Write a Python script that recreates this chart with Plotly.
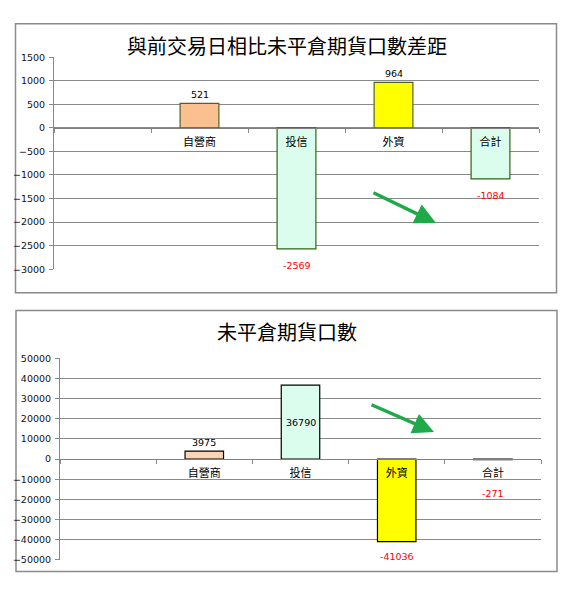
import plotly.graph_objects as go

# categories (first slot is left empty, as in the source sheet)
categories = [" ", "自營商", "投信", "外資", "合計"]
investors = ["自營商", "投信", "外資", "合計"]

# chart 1: change vs previous trading day
diff_title = "與前交易日相比未平倉期貨口數差距"
diff_values = [521, -2569, 964, -1084]
diff_range = [-3000, 1500]
diff_dtick = 500

# chart 2: open interest
oi_title = "未平倉期貨口數"
oi_values = [3975, 36790, -41036, -271]
oi_range = [-50000, 50000]
oi_dtick = 10000

# the page body keeps an 8px margin, so the figure is shrunk by that much
PAGE_PAD = 8
W, H = 577 - PAGE_PAD, 600 - PAGE_PAD


def px(x):
    return (x - PAGE_PAD) / W


def py(y):
    return 1 - (y - PAGE_PAD) / H


fig = go.Figure()

panels = [
    dict(values=diff_values, rng=diff_range, dtick=diff_dtick, title=diff_title,
         xdom=[px(54), px(539)], ydom=[py(268), py(52)],
         colors=["#FAC090", "#DAFDEE", "#FFFF00", "#DAFDEE"],
         lines=["#4F6228", "#2E6413", "#4F6228", "#2E6413"],
         box=[15.5, 18, 556.5, 292], title_y=40,
         arrow=[(372, 190), (436, 221)],
         label_pos=["out", "out", "out", "out"], neg_shift=-9, small_shift=-9),
    dict(values=oi_values, rng=oi_range, dtick=oi_dtick, title=oi_title,
         xdom=[px(60), px(541)], ydom=[py(564), py(359)],
         colors=["#FCD5B4", "#DAFDEE", "#FFFF00", "#DAFDEE"],
         lines=["#000000"] * 4,
         box=[16, 310, 557, 576], title_y=332,
         arrow=[(370, 406), (434, 434)],
         label_pos=["out", "mid", "out", "low"], neg_shift=-7, small_shift=-26),
]

annotations = []
shapes = []

for i, p in enumerate(panels, start=1):
    xa = "x" if i == 1 else f"x{i}"
    ya = "y" if i == 1 else f"y{i}"
    fig.add_trace(go.Bar(
        x=investors, y=p["values"], xaxis=xa, yaxis=ya, width=0.4,
        marker=dict(color=p["colors"], line=dict(color=p["lines"], width=1.2)),
        hoverinfo="x+y", showlegend=False,
    ))

    lo, hi = p["rng"]
    zero_pos = p["ydom"][0] + (0 - lo) / (hi - lo) * (p["ydom"][1] - p["ydom"][0])
    axis_font = dict(family="DejaVu Sans", size=9.5, color="#111111")
    fig.update_layout(**{
        ("xaxis" if i == 1 else f"xaxis{i}"): dict(
            domain=p["xdom"], anchor="free", position=zero_pos,
            type="category", categoryorder="array", categoryarray=categories,
            range=[-0.5, 4.5], tickson="boundaries", ticks="outside",
            ticklen=4, tickcolor="#888888", showline=True, linecolor="#7f7f7f",
            linewidth=1.3, showgrid=False, ticklabelstandoff=4,
            tickfont=dict(family="Noto Sans CJK TC", size=11, color="#000000"),
            fixedrange=True,
        ),
        ("yaxis" if i == 1 else f"yaxis{i}"): dict(
            domain=p["ydom"], anchor=xa, range=p["rng"], dtick=p["dtick"],
            tickformat="d",
            showgrid=True, gridcolor="#8a8a8a", gridwidth=1.3, zeroline=False,
            showline=True, linecolor="#888888", linewidth=1,
            ticks="outside", ticklen=4, tickcolor="#888888",
            tickfont=axis_font, ticklabelstandoff=2, fixedrange=True,
        ),
    })

    # data labels
    for name, v, pos in zip(investors, p["values"], p["label_pos"]):
        color = "#000000" if v >= 0 else "#FF0000"
        if pos == "mid":
            y, anchor, shift = v / 2, "middle", 0
        elif pos == "low":
            y, anchor, shift = v, "top", p["small_shift"]
        elif v >= 0:
            y, anchor, shift = v, "bottom", 1
        else:
            y, anchor, shift = v, "top", p["neg_shift"]
        annotations.append(dict(
            x=name, y=y, xref=xa, yref=ya, text=str(v), showarrow=False,
            yanchor=anchor, yshift=shift,
            font=dict(family="DejaVu Sans", size=9.5, color=color),
        ))

    # title
    annotations.append(dict(
        x=px(287), y=py(p["title_y"]), xref="paper", yref="paper",
        text=p["title"], showarrow=False, yanchor="middle",
        font=dict(family="Noto Sans CJK TC", size=20, color="#000000"),
    ))

    # green trend arrow (tail offset in pixels from the head)
    (tx, ty), (hx, hy) = p["arrow"]
    annotations.append(dict(
        x=px(hx), y=py(hy), ax=tx - hx, ay=ty - hy,
        xref="paper", yref="paper", axref="pixel", ayref="pixel",
        text="", showarrow=True, arrowhead=2, arrowsize=1.2,
        arrowwidth=3.5, arrowcolor="#1EAA48",
    ))

    # chart frame
    x0, y0, x1, y1 = p["box"]
    shapes.append(dict(
        type="rect", xref="paper", yref="paper",
        x0=px(x0), x1=px(x1), y0=py(y1), y1=py(y0),
        line=dict(color="#8a8a8a", width=1.5), layer="below",
    ))

fig.update_layout(
    width=W, height=H,
    margin=dict(l=0, r=0, t=0, b=0),
    paper_bgcolor="white", plot_bgcolor="white",
    annotations=annotations, shapes=shapes,
    bargap=0.6,
)

fig.write_html("out.html")
